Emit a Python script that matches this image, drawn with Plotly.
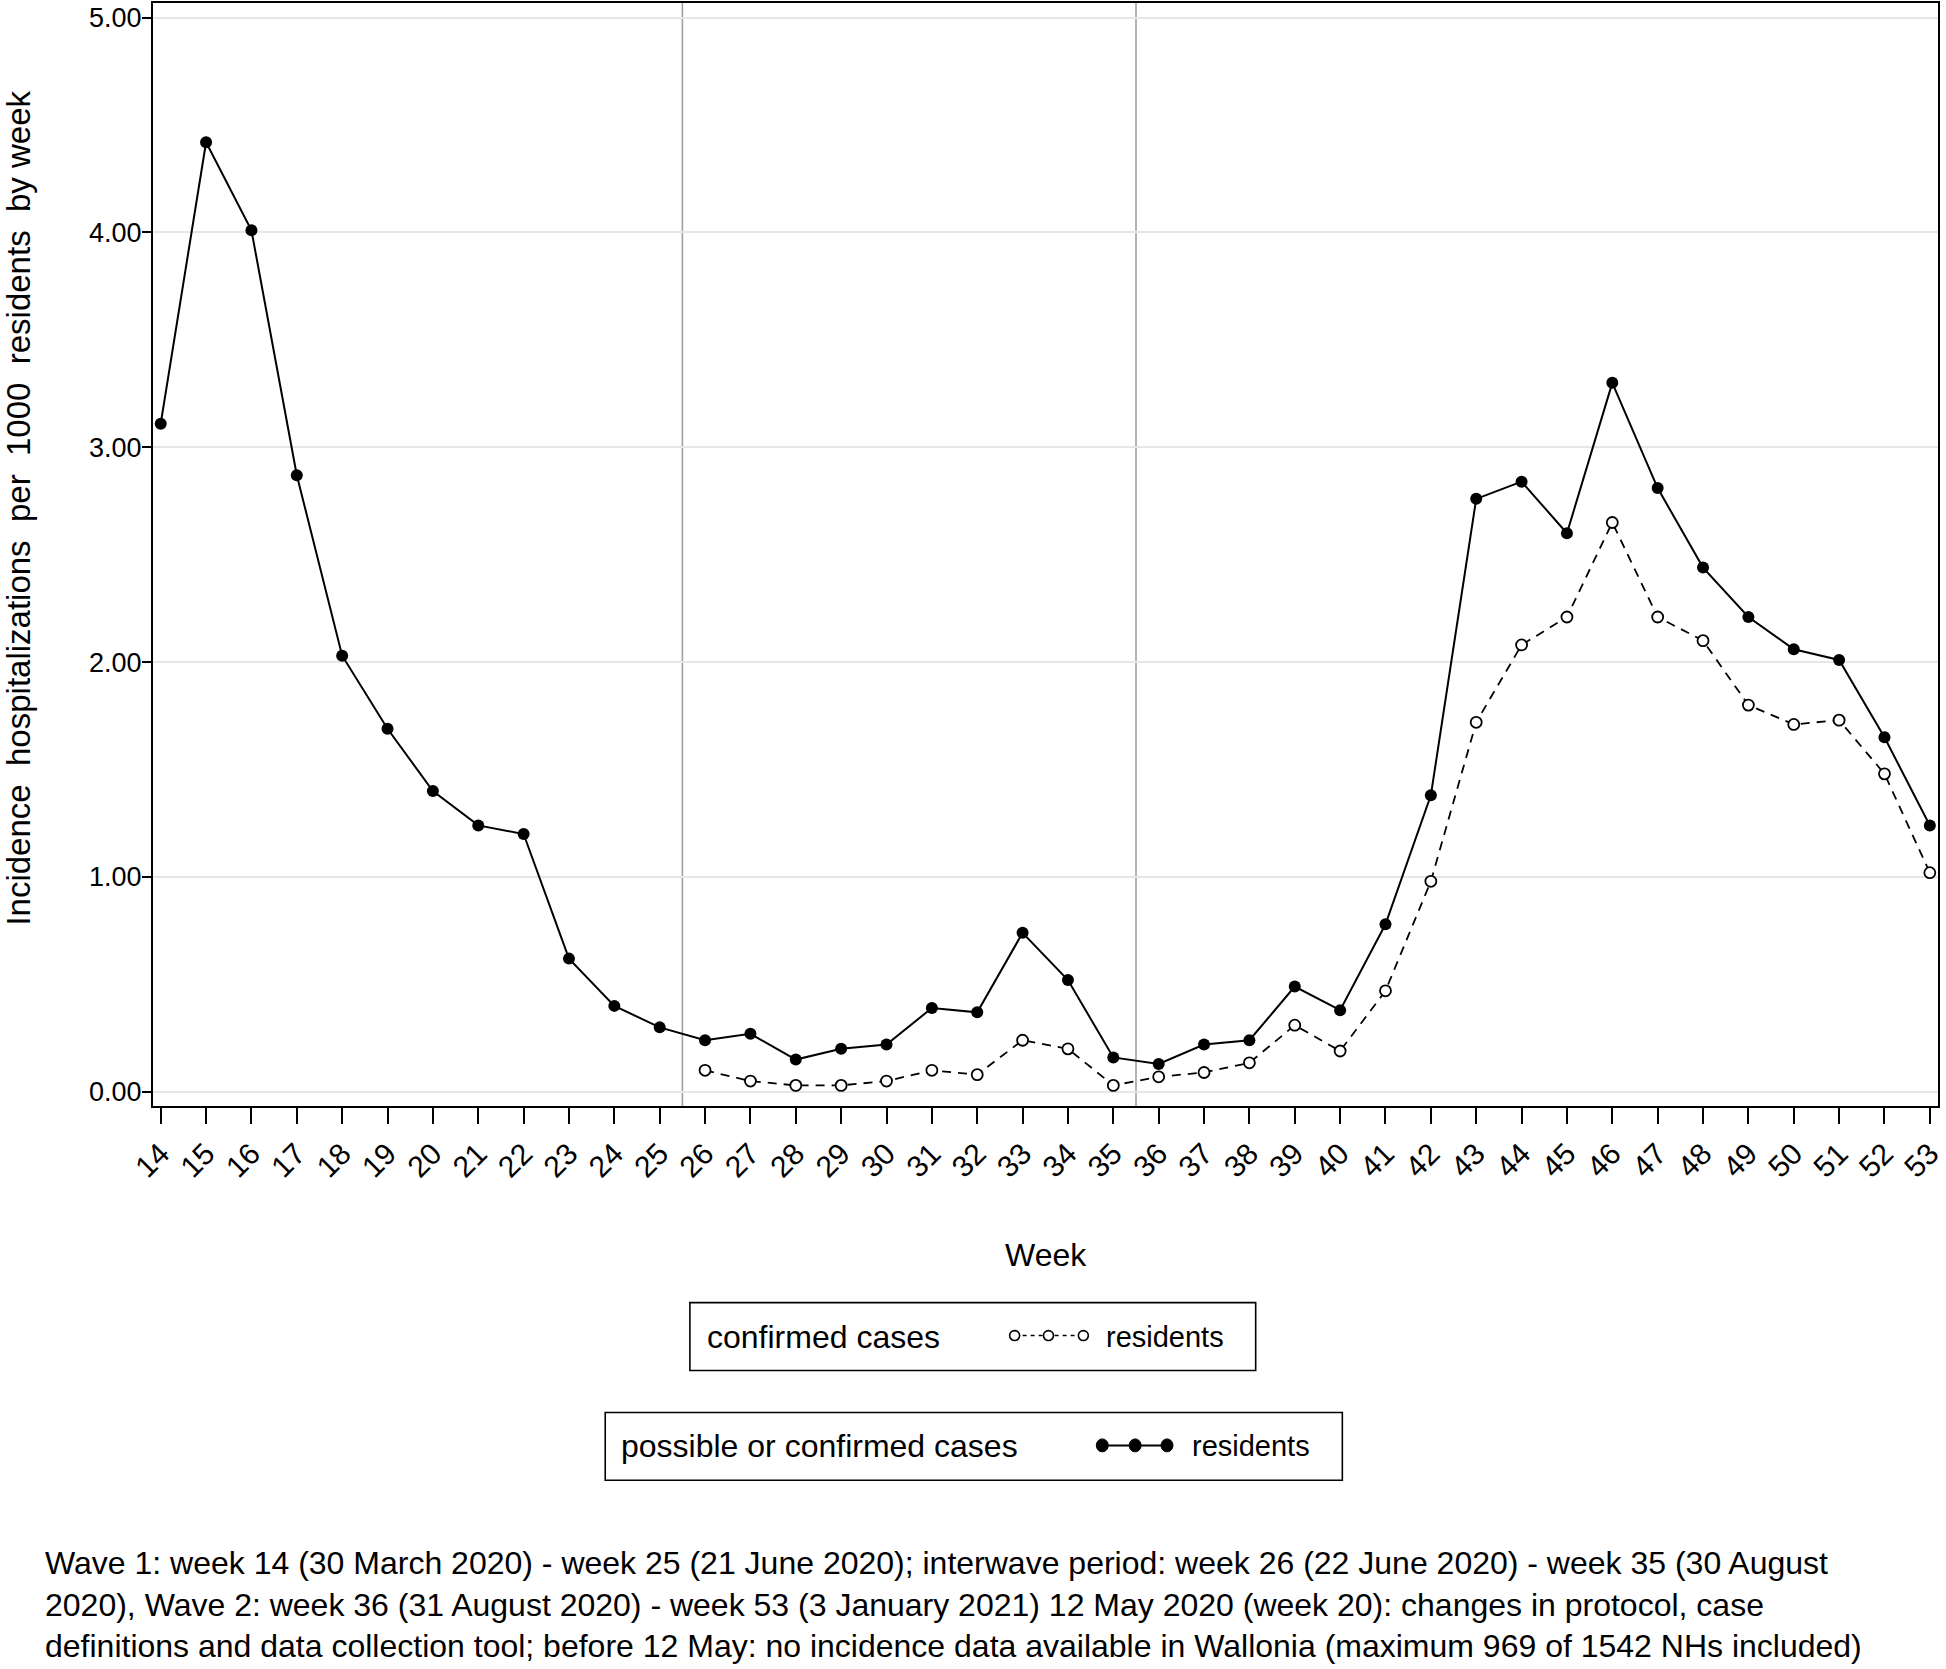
import plotly.graph_objects as go

# ---------------- data ----------------
weeks_all = list(range(14, 54))
possible_or_confirmed = [3.11, 4.42, 4.01, 2.87, 2.03, 1.69, 1.40, 1.24, 1.20, 0.62,
                         0.40, 0.30, 0.24, 0.27, 0.15, 0.20, 0.22, 0.39, 0.37, 0.74,
                         0.52, 0.16, 0.13, 0.22, 0.24, 0.49, 0.38, 0.78, 1.38, 2.76,
                         2.84, 2.60, 3.30, 2.81, 2.44, 2.21, 2.06, 2.01, 1.65, 1.24]
weeks_confirmed = list(range(26, 54))
confirmed = [0.10, 0.05, 0.03, 0.03, 0.05, 0.10, 0.08, 0.24, 0.20, 0.03,
             0.07, 0.09, 0.135, 0.31, 0.19, 0.47, 0.98, 1.72, 2.08, 2.21,
             2.65, 2.21, 2.10, 1.80, 1.71, 1.73, 1.48, 1.02]
period_breaks = [25.5, 35.5]
y_ticks = [0, 1, 2, 3, 4, 5]

y_title = "Incidence\u00a0 hospitalizations\u00a0 per\u00a0 1000\u00a0 residents\u00a0 by week"
x_title = "Week"
legend1_label = "confirmed cases"
legend2_label = "possible or confirmed cases"
legend_series = "residents"
footnote = ("Wave 1: week 14 (30 March 2020) - week 25 (21 June 2020); interwave period: week 26 (22 June 2020) - week 35 (30 August<br>"
            "2020), Wave 2: week 36 (31 August 2020) - week 53 (3 January 2021) 12 May 2020 (week 20): changes in protocol, case<br>"
            "definitions and data collection tool; before 12 May: no incidence data available in Wallonia (maximum 969 of 1542 NHs included)")

# ---------------- layout geometry ----------------
W, H = 1946, 1669
L, R, T, B = 153, 1, 1, 563
PW = W - L - R
PH = H - T - B
FONT = "Liberation Sans, Arial, Helvetica, sans-serif"


def px(x):
    return (x - L) / PW


def py(y):
    return (H - B - y) / PH


fig = go.Figure()

fig.add_trace(go.Scatter(
    x=weeks_confirmed, y=confirmed, mode="lines+markers",
    line=dict(color="black", width=1.8, dash="9px,7px"),
    marker=dict(symbol="circle", size=11, color="white",
                line=dict(color="black", width=1.8)),
    showlegend=False, cliponaxis=False))

fig.add_trace(go.Scatter(
    x=weeks_all, y=possible_or_confirmed, mode="lines+markers",
    line=dict(color="black", width=2),
    marker=dict(symbol="circle", size=12, color="black"),
    showlegend=False, cliponaxis=False))

shapes = []
for xb in period_breaks:
    shapes.append(dict(type="line", xref="x", yref="paper", x0=xb, x1=xb, y0=0, y1=1,
                       line=dict(color="#a0a0a0", width=1.6), layer="below"))

# legend boxes
shapes.append(dict(type="rect", xref="paper", yref="paper",
                   x0=px(692), x1=px(1260), y0=py(1303), y1=py(1371),
                   line=dict(color="black", width=1.6)))
shapes.append(dict(type="rect", xref="paper", yref="paper",
                   x0=px(607), x1=px(1347), y0=py(1413), y1=py(1481),
                   line=dict(color="black", width=1.6)))
# legend sample lines
shapes.append(dict(type="line", xref="paper", yref="paper",
                   x0=px(1018), x1=px(1087), y0=py(1336), y1=py(1336),
                   line=dict(color="black", width=1.5, dash="4px,4px")))
shapes.append(dict(type="line", xref="paper", yref="paper",
                   x0=px(1106), x1=px(1171), y0=py(1446), y1=py(1446),
                   line=dict(color="black", width=2)))
for cx in [1018, 1052, 1087]:
    shapes.append(dict(type="circle", xref="paper", yref="paper",
                       x0=px(cx - 5), x1=px(cx + 5), y0=py(1336 + 5), y1=py(1336 - 5),
                       fillcolor="white", line=dict(color="black", width=1.6)))
for cx in [1106, 1139, 1171]:
    shapes.append(dict(type="circle", xref="paper", yref="paper",
                       x0=px(cx - 6), x1=px(cx + 6), y0=py(1446 + 6.5), y1=py(1446 - 6.5),
                       fillcolor="black", line=dict(color="black", width=1)))

annotations = [
    dict(text=y_title, xref="paper", yref="paper", x=px(18), y=py(507),
         xanchor="center", yanchor="middle", textangle=-90, showarrow=False,
         font=dict(size=33, color="black", family=FONT)),
    dict(text=x_title, xref="paper", yref="paper", x=px(1049), y=py(1255),
         xanchor="center", yanchor="middle", showarrow=False,
         font=dict(size=32, color="black", family=FONT)),
    dict(text=legend1_label, xref="paper", yref="paper", x=px(707), y=py(1337),
         xanchor="left", yanchor="middle", showarrow=False,
         font=dict(size=32, color="black", family=FONT)),
    dict(text=legend_series, xref="paper", yref="paper", x=px(1108), y=py(1337),
         xanchor="left", yanchor="middle", showarrow=False,
         font=dict(size=29, color="black", family=FONT)),
    dict(text=legend2_label, xref="paper", yref="paper", x=px(621), y=py(1447),
         xanchor="left", yanchor="middle", showarrow=False,
         font=dict(size=32, color="black", family=FONT)),
    dict(text=legend_series, xref="paper", yref="paper", x=px(1194), y=py(1447),
         xanchor="left", yanchor="middle", showarrow=False,
         font=dict(size=29, color="black", family=FONT)),
    dict(text=footnote, xref="paper", yref="paper", x=px(43), y=py(1544),
         xanchor="left", yanchor="top", align="left", showarrow=False,
         font=dict(size=32, color="black", family=FONT)),
]

fig.update_layout(
    width=W, height=H,
    margin=dict(l=L, r=R, t=T, b=B, pad=0),
    paper_bgcolor="white", plot_bgcolor="white",
    font=dict(family=FONT, color="black"),
    shapes=shapes, annotations=annotations,
    showlegend=False,
    xaxis=dict(range=[13.83, 53.18], tickmode="array", tickvals=weeks_all,
               ticktext=[str(w) for w in weeks_all], tickangle=-45,
               tickfont=dict(size=30, family=FONT, color="black"),
               ticks="outside", ticklen=16, tickwidth=1.6, tickcolor="black",
               ticklabeloverflow="allow",
               showgrid=False, zeroline=False,
               showline=True, linecolor="black", linewidth=2, mirror=True),
    yaxis=dict(range=[-0.066, 5.068], tickmode="array", tickvals=y_ticks,
               ticktext=[f"{v:.2f}" for v in y_ticks],
               tickfont=dict(size=27, family=FONT, color="black"),
               ticks="outside", ticklen=9, tickwidth=1.6, tickcolor="black",
               ticklabelstandoff=-5,
               showgrid=True, gridcolor="#e6e6e6", gridwidth=1.6, zeroline=False,
               showline=True, linecolor="black", linewidth=2, mirror=True),
)

fig.write_html("out.html",
               config={"displayModeBar": False},
               post_script="document.body.style.margin='0';document.body.style.overflow='hidden';")
